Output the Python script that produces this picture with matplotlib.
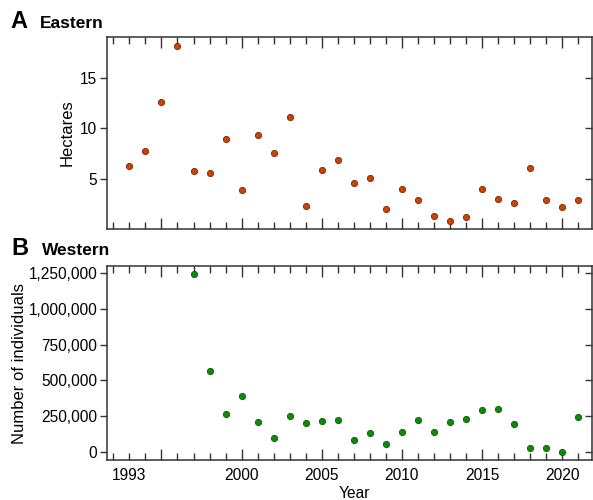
import matplotlib
matplotlib.use("Agg")
import matplotlib.pyplot as plt
from matplotlib.ticker import FixedLocator, MultipleLocator, FuncFormatter

plt.rcParams["font.family"] = ["Liberation Sans", "DejaVu Sans"]

# Eastern: area (hectares), 1993-2021
east_years = list(range(1993, 2022))
east_ha = [6.25, 7.8, 12.6, 18.2, 5.8, 5.6, 9.0, 3.85, 9.4, 7.55, 11.15,
           2.25, 5.9, 6.9, 4.6, 5.1, 1.95, 4.0, 2.9, 1.25, 0.75, 1.2,
           4.0, 2.95, 2.55, 6.1, 2.85, 2.15, 2.85]

# Western: number of individuals, 1997-2021
west_years = list(range(1997, 2022))
west_n = [1239000, 566000, 267000, 390000, 209000, 97000, 255000,
          204000, 220000, 223000, 86000, 132000, 60000, 141000, 223000,
          143000, 211000, 234000, 292000, 299000, 195000, 28000, 30000,
          2000, 248000]

x_labels = {1993: "1993", 2000: "2000", 2005: "2005", 2010: "2010",
            2015: "2015", 2020: "2020"}

ORANGE, ORANGE_EDGE = "#CC4300", "#7A2600"
GREEN, GREEN_EDGE = "#0A8C0A", "#055A05"
SPINE = "#333333"
FS = 11.2

fig = plt.figure(figsize=(5.93, 5.0), dpi=100)
ax_a = fig.add_axes([0.1804, 0.542, 0.8176, 0.384])
ax_b = fig.add_axes([0.1804, 0.080, 0.8176, 0.388])


def style_axis(ax):
    for sp in ax.spines.values():
        sp.set_color(SPINE)
        sp.set_linewidth(1.1)
    ax.set_xlim(1991.6, 2021.85)
    ax.xaxis.set_major_locator(FixedLocator([1995, 2000, 2005, 2010, 2015, 2020]))
    ax.xaxis.set_minor_locator(MultipleLocator(1))
    ax.tick_params(axis="x", which="both", direction="in", top=True, bottom=True,
                   color=SPINE, width=1.0, labelsize=FS, pad=6)
    ax.tick_params(axis="x", which="major", length=8)
    ax.tick_params(axis="x", which="minor", length=5)
    ax.tick_params(axis="y", which="major", direction="out", left=True, right=False,
                   length=5, width=1.0, color=SPINE, labelsize=FS, pad=2)
    ax.tick_params(axis="y", which="minor", left=False, right=False)
    # inward ticks on the right side
    sec = ax.secondary_yaxis("right")
    sec.set_yticks(ax.get_yticks())
    sec.tick_params(direction="in", length=5, width=1.0, color=SPINE, labelright=False)
    sec.spines["right"].set_visible(False)


# ── A: Eastern ────────────────────────────────────────────
ax_a.plot(east_years, east_ha, "o", ms=4.5, mfc=ORANGE, mec=ORANGE_EDGE, mew=0.6)
ax_a.set_ylim(0, 19.1)
ax_a.set_yticks([5, 10, 15])
style_axis(ax_a)
ax_a.tick_params(axis="x", which="both", labelbottom=False)
ax_a.set_ylabel("Hectares", fontsize=12)
ax_a.yaxis.set_label_coords(-0.066, 0.5)

# ── B: Western ────────────────────────────────────────────
ax_b.plot(west_years, west_n, "o", ms=4.5, mfc=GREEN, mec=GREEN_EDGE, mew=0.6)
ax_b.set_ylim(-53600, 1296600)
ax_b.set_yticks([0, 250000, 500000, 750000, 1000000, 1250000])
ax_b.yaxis.set_major_formatter(FuncFormatter(lambda v, p: f"{int(v):,}"))
style_axis(ax_b)
ax_b.xaxis.set_major_formatter(FuncFormatter(lambda v, p: x_labels.get(int(round(v)), "")))
ax_b.xaxis.set_minor_formatter(FuncFormatter(lambda v, p: "1993" if int(round(v)) == 1993 else ""))
ax_b.tick_params(axis="x", which="minor", labelsize=FS, pad=6)
ax_b.set_xlabel("Year", fontsize=FS)
ax_b.xaxis.set_label_coords(0.51, -0.135)
ax_b.set_ylabel("Number of individuals", fontsize=12)
ax_b.yaxis.set_label_coords(-0.165, 0.5)

# panel titles
fig.text(0.017, 0.944, "A", fontsize=17, fontweight="bold")
fig.text(0.068, 0.944, "Eastern", fontsize=12.5, fontweight="bold")
fig.text(0.019, 0.490, "B", fontsize=17, fontweight="bold")
fig.text(0.071, 0.490, "Western", fontsize=12.5, fontweight="bold")

fig.savefig("out.png", dpi=100)
